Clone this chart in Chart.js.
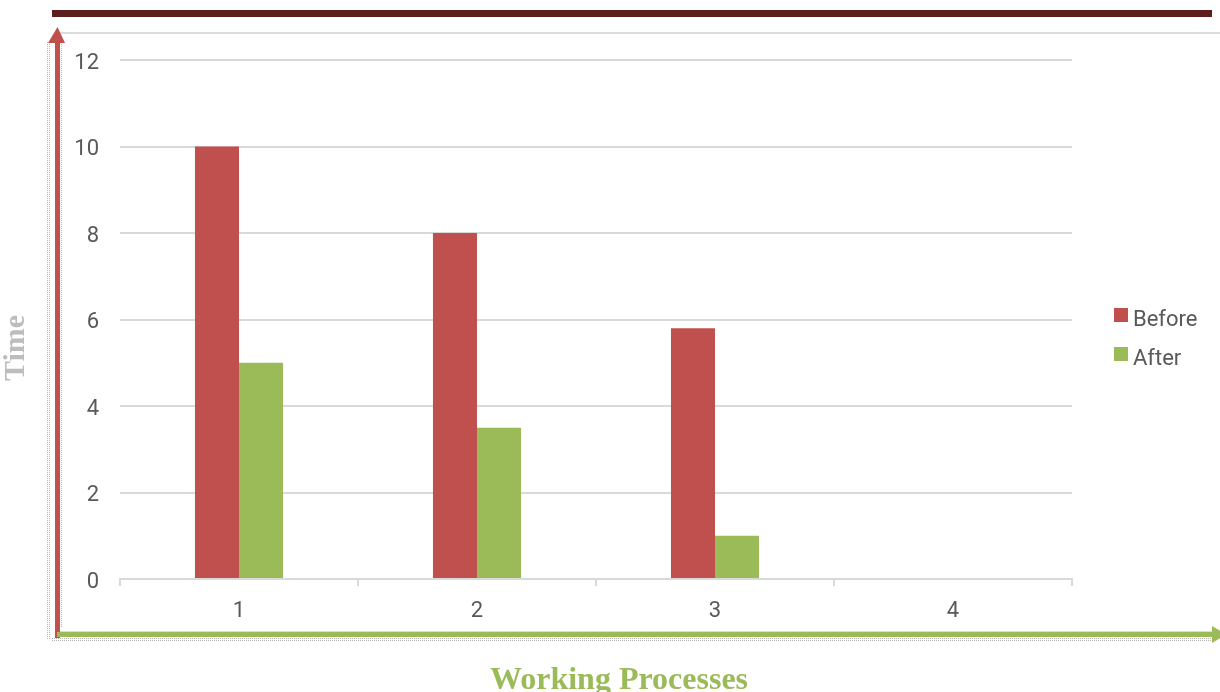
<!DOCTYPE html>
<html><head><meta charset="utf-8">
<script src="https://cdn.jsdelivr.net/npm/chart.js@4/dist/chart.umd.min.js"></script>
<style>html,body{margin:0;padding:0;background:#fff;}#wrap{width:1220px;height:692px;position:relative;}</style>
</head><body><div id="wrap"><canvas id="c" width="1220" height="692"></canvas></div>
<script>
const categories = ['1', '2', '3', '4'];
const beforeValues = [10, 8, 5.8, 0];
const afterValues = [5, 3.5, 1, 0];
const seriesNames = ['Before', 'After'];
const yTicks = [0, 2, 4, 6, 8, 10, 12];
const xTitle = 'Working Processes';
const yTitle = 'Time';

const RED = '#c0504d', GREEN = '#9bbb59', TXT = '#595959', GRID = '#d9d9d9';
const FONT = 'Roboto, "Noto Sans", sans-serif';

const deco = {
  id: 'deco',
  beforeDraw(chart) {
    const ctx = chart.ctx;
    ctx.save();
    ctx.fillStyle = '#5e1d1d';
    ctx.fillRect(52, 10, 1160, 7);
    ctx.fillStyle = '#dcdcdc';
    ctx.fillRect(60, 32, 1160, 2);
    ctx.fillRect(60, 631, 1160, 2);
    ctx.restore();
  },
  afterDraw(chart) {
    const ctx = chart.ctx;
    ctx.save();
    ctx.strokeStyle = 'rgba(120,120,120,0.55)';
    ctx.lineWidth = 1;
    ctx.setLineDash([1, 1]);
    for (let x of [47, 49]) { ctx.beginPath(); ctx.moveTo(x + .5, 42); ctx.lineTo(x + .5, 640); ctx.stroke(); }
    for (let x of [61]) { ctx.beginPath(); ctx.moveTo(x + .5, 42); ctx.lineTo(x + .5, 628); ctx.stroke(); }
    for (let y of [638, 640]) { ctx.beginPath(); ctx.moveTo(52, y + .5); ctx.lineTo(1214, y + .5); ctx.stroke(); }
    ctx.setLineDash([]);
    ctx.fillStyle = RED;
    ctx.fillRect(55, 40, 5, 598);
    ctx.beginPath(); ctx.moveTo(48, 43); ctx.lineTo(57.5, 27); ctx.lineTo(65, 43); ctx.closePath(); ctx.fill();
    ctx.fillStyle = GREEN;
    ctx.fillRect(57, 632, 1158, 5);
    ctx.beginPath(); ctx.moveTo(1212, 626); ctx.lineTo(1226, 634.5); ctx.lineTo(1212, 643); ctx.closePath(); ctx.fill();
    ctx.fillStyle = GREEN;
    ctx.font = 'bold 32px "Liberation Serif", "Times New Roman", serif';
    ctx.textAlign = 'center'; ctx.textBaseline = 'alphabetic';
    ctx.fillText(xTitle, 619, 689);
    ctx.translate(16, 348);
    ctx.rotate(-Math.PI / 2);
    ctx.fillStyle = '#bdbdbd';
    ctx.font = 'bold 30px "Liberation Serif", serif';
    ctx.textBaseline = 'middle';
    ctx.fillText(yTitle, 0, 0);
    ctx.restore();
    ctx.save();
    ctx.beginPath(); ctx.rect(1090, 290, 130, 78); ctx.clip();
    ctx.font = '22px ' + FONT;
    ctx.textAlign = 'left'; ctx.textBaseline = 'middle';
    chart.data.datasets.forEach((ds, i) => {
      const y = 315 + i * 39;
      ctx.fillStyle = ds.backgroundColor;
      ctx.fillRect(1114, y - 7, 14, 14);
      ctx.fillStyle = TXT;
      ctx.fillText(ds.label, 1133, y + 5);
    });
    ctx.restore();
  }
};

new Chart(document.getElementById('c'), {
  type: 'bar',
  data: {
    labels: categories,
    datasets: [
      { label: seriesNames[0], data: beforeValues, backgroundColor: RED },
      { label: seriesNames[1], data: afterValues, backgroundColor: GREEN }
    ]
  },
  options: {
    responsive: false,
    animation: false,
    devicePixelRatio: 1,
    layout: { padding: { left: 0, right: 148, top: 60, bottom: 0 } },
    datasets: { bar: { categoryPercentage: 0.37, barPercentage: 1 } },
    plugins: { legend: { display: false }, tooltip: { enabled: false } },
    scales: {
      x: {
        grid: { drawOnChartArea: false, drawTicks: true, tickLength: 7, color: GRID, lineWidth: 2, offset: true },
        border: { display: true, color: GRID, width: 2 },
        ticks: { color: TXT, font: { size: 22, family: FONT }, padding: 12 },
        afterFit(s) { s.height = 113; }
      },
      y: {
        min: 0, max: 12,
        afterBuildTicks(s) { s.ticks = yTicks.map(v => ({ value: v })); },
        grid: { color: GRID, lineWidth: 2, drawTicks: false },
        border: { display: false },
        ticks: { color: TXT, font: { size: 22, family: FONT }, padding: 21, labelOffset: 3 },
        afterFit(s) { s.width = 120; }
      }
    }
  },
  plugins: [deco]
});
</script></body></html>
